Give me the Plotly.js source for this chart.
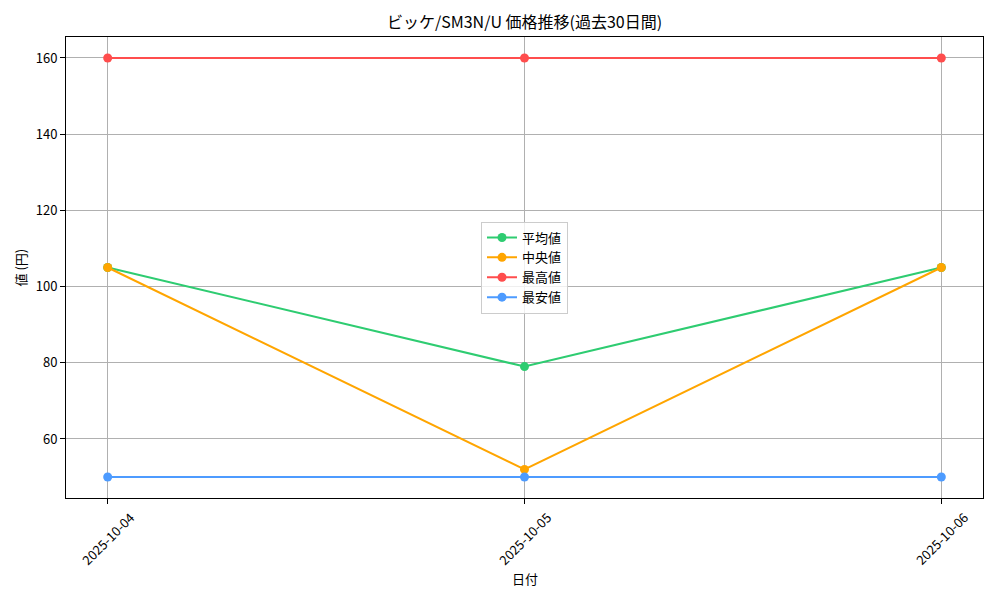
<!DOCTYPE html>
<html>
<head>
<meta charset="utf-8">
<script src="https://cdn.plot.ly/plotly-3.0.1.min.js"></script>
<style>
  html, body { margin: 0; padding: 0; background: #fff; }
  #chart { width: 1000px; height: 600px; }
</style>
</head>
<body>
<div id="chart"></div>
<script>
var dates = ['2025-10-04', '2025-10-05', '2025-10-06'];
var avgPrice = [105, 79, 105];
var medianPrice = [105, 52, 105];
var maxPrice = [160, 160, 160];
var minPrice = [50, 50, 50];

var FONT = '"Noto Sans CJK JP", "DejaVu Sans", sans-serif';

function makeTrace(name, values, color) {
    return {
        x: dates,
        y: values,
        name: name,
        mode: 'lines+markers',
        type: 'scatter',
        line: { color: color, width: 2 },
        marker: { color: color, size: 9 }
    };
}

var data = [
    makeTrace('平均値', avgPrice, '#2ecc71'),
    makeTrace('中央値', medianPrice, '#ffa500'),
    makeTrace('最高値', maxPrice, '#ff4d4d'),
    makeTrace('最安値', minPrice, '#4d9bff')
];

// rotated date labels centred under each tick, like the original
var annotations = dates.map(function(d) {
    return {
        x: d, xref: 'x', y: 0, yref: 'paper',
        yanchor: 'middle', xanchor: 'center', yshift: -40,
        text: d, textangle: -45, showarrow: false,
        font: { family: FONT, size: 13, color: '#000' }
    };
});
annotations.push({
    x: 0.5, xref: 'paper', y: 0, yref: 'paper', yanchor: 'middle', yshift: -80,
    text: '日付', showarrow: false, font: { family: FONT, size: 13, color: '#000' }
});
annotations.push({
    x: 0, xref: 'paper', y: 0.5, yref: 'paper', xanchor: 'center', xshift: -46,
    text: '値 (円)', textangle: -90, showarrow: false,
    font: { family: FONT, size: 13, color: '#000' }
});

var layout = {
    width: 1000,
    height: 600,
    margin: { l: 66, r: 17, t: 37, b: 102 },
    paper_bgcolor: '#fff',
    plot_bgcolor: '#fff',
    font: { family: FONT, size: 13, color: '#000' },
    title: {
        text: 'ビッケ/SM3N/U 価格推移(過去30日間)',
        font: { family: FONT, size: 16, color: '#000' },
        x: 0.5, xref: 'paper', y: 1 - 22 / 600, yref: 'container', yanchor: 'middle'
    },
    xaxis: {
        type: 'category',
        range: [-0.1, 2.1],
        showticklabels: false,
        showgrid: true, gridcolor: '#b0b0b0', gridwidth: 1,
        showline: true, linecolor: '#000', linewidth: 1, mirror: true,
        ticks: 'outside', ticklen: 5, tickcolor: '#000',
        zeroline: false
    },
    yaxis: {
        range: [44.5, 165.5],
        dtick: 20, tick0: 0,
        showgrid: true, gridcolor: '#b0b0b0', gridwidth: 1,
        showline: true, linecolor: '#000', linewidth: 1, mirror: true,
        ticks: 'outside', ticklen: 5, tickcolor: '#000',
        tickfont: { family: FONT, size: 13, color: '#000' },
        zeroline: false
    },
    legend: {
        x: 0.5, y: 0.5, xanchor: 'center', yanchor: 'middle',
        bgcolor: 'rgba(255,255,255,0.8)',
        bordercolor: '#cccccc', borderwidth: 1,
        font: { family: FONT, size: 13, color: '#000' },
        tracegroupgap: 0
    },
    showlegend: true,
    annotations: annotations
};

Plotly.newPlot('chart', data, layout, { staticPlot: true });
</script>
</body>
</html>
